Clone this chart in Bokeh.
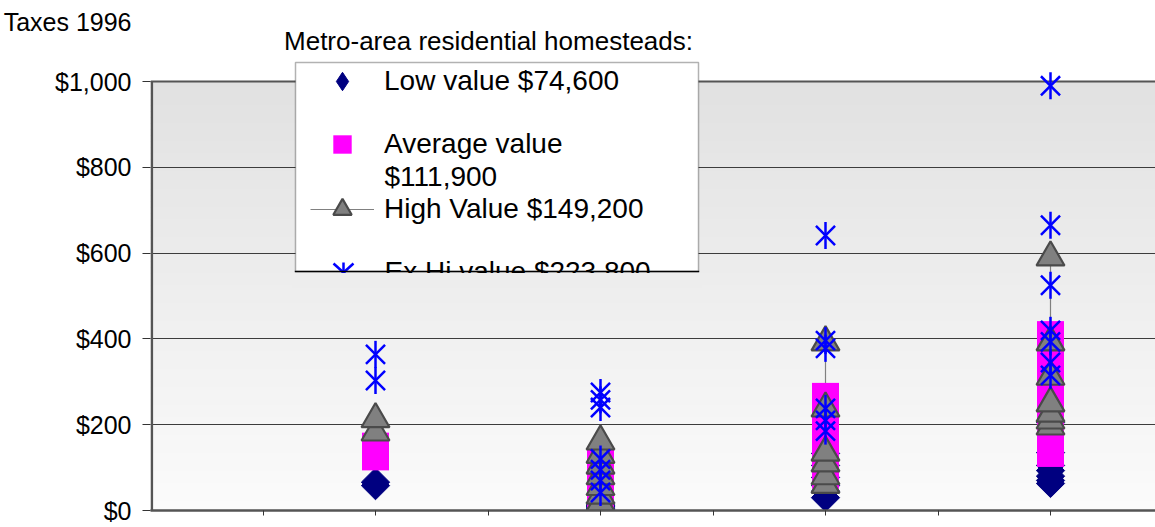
import math
from bokeh.plotting import figure
from bokeh.models import (Range1d, FixedTicker, NumeralTickFormatter, Legend, LegendItem,
                          BoxAnnotation, PolyAnnotation, Label, Span)
from bokeh.embed import file_html
from bokeh.resources import INLINE

# ---------------- data ----------------
groups = [1, 2, 3, 4]
low_values = [
    [58, 66],
    [3, 5, 8, 10, 12, 15, 18],
    [30, 45, 58, 77, 105, 133],
    [63, 70, 80, 93, 105, 135, 205],
]
avg_values = [
    [125, 150],
    [30, 40, 55, 70, 85, 100, 118],
    [82, 100, 130, 170, 215, 266],
    [133, 165, 205, 255, 300, 345, 410],
]
high_values = [
    [182, 213],
    [18, 35, 55, 80, 105, 130, 161],
    [60, 80, 110, 135, 238, 392],
    [196, 210, 226, 250, 312, 392, 590],
]
exhi_values = [
    [303, 364],
    [42, 70, 95, 120, 240, 258, 275],
    [185, 210, 238, 378, 396, 641],
    [315, 345, 393, 420, 525, 665, 990],
]
low_label = "Low value $74,600"
avg_label_1 = "Average value"
avg_label_2 = "$111,900"
high_label = "High Value $149,200"
exhi_label = "Ex Hi value $223,800"
y_ticks = [0, 200, 400, 600, 800, 1000]
x_ticks = [0.5, 1, 1.5, 2, 2.5, 3, 3.5, 4]
title_left = "Taxes 1996"
title_main = "Metro-area residential homesteads:"

# ---------------- layout helpers (pixel positions of the page) ----------------
FONT = "Liberation Sans"
W, H = 1155, 527
FRAME_L, FRAME_B = 150, 17
FRAME_W, FRAME_H = W - FRAME_L, H - FRAME_B
PX_PER_X = 225.0            # pixels per group step
PX_PER_Y = 429 / 1000.0     # pixels per dollar
Y_TOP = FRAME_H / PX_PER_Y  # frame reaches the top of the page
NAN = float("nan")


def dx(page_x):
    return (page_x - FRAME_L) / PX_PER_X


def dy(page_y):
    return (FRAME_H - page_y) / PX_PER_Y


def flat(vals):
    xs, ys = [], []
    for g, vs in zip(groups, vals):
        for v in vs:
            xs.append(g)
            ys.append(v)
    return xs, ys


def flat_line(vals):
    xs, ys = [], []
    for g, vs in zip(groups, vals):
        for v in sorted(vs, reverse=True):
            xs.append(g)
            ys.append(v)
        xs.append(NAN)
        ys.append(NAN)
    return xs, ys


p = figure(width=W, height=H,
           x_range=Range1d(0, FRAME_W / PX_PER_X), y_range=Range1d(0, Y_TOP),
           output_backend="svg", toolbar_location=None,
           min_border_left=FRAME_L, min_border_top=0,
           min_border_right=0, min_border_bottom=FRAME_B)
p.border_fill_color = "white"
p.background_fill_color = "white"
p.outline_line_color = None


def band_color(py):
    t = min(max((py - 81) / 429.0, 0), 1)
    v = int(round(225 + (251 - 225) * t))
    return "#%02x%02x%02x" % (v, v, v)


def add_bands(y0, y1, left=None, right=None, level="image", step=6, bottom_edge=False):
    py = y0
    while py < y1 - 0.01:
        py2 = min(py + step, y1)
        top = dy(py - 0.4) if py > y0 else dy(py)
        bottom = dy(py2 + 0.4)
        if bottom_edge and py2 >= y1:
            bottom = None
        p.add_layout(BoxAnnotation(top=top, bottom=bottom, left=left, right=right,
                                   fill_color=band_color((py + py2) / 2), fill_alpha=1,
                                   line_color=None, level=level))
        py = py2


# gradient plot background ($0 .. $1,000)
add_bands(81, 510, bottom_edge=True)

# y axis: labels on major ticks, tick marks as minor ticks
taxes_tick = 1138
p.yaxis.ticker = FixedTicker(ticks=y_ticks + [taxes_tick], minor_ticks=y_ticks)
p.yaxis.formatter = NumeralTickFormatter(format="$0,0")
p.yaxis.major_label_overrides = {taxes_tick: title_left}
p.yaxis.major_label_text_font = FONT
p.yaxis.major_label_text_font_size = "25px"
p.yaxis.major_label_text_color = "black"
p.yaxis.major_label_standoff = 11
p.yaxis.major_tick_out = 0
p.yaxis.major_tick_in = 0
p.yaxis.major_tick_line_color = None
p.yaxis.minor_tick_out = 8
p.yaxis.minor_tick_in = 0
p.yaxis.minor_tick_line_color = "#333333"
p.yaxis.minor_tick_line_width = 1
p.yaxis.axis_line_color = None
# visible left axis line only from $0 to $1,000
p.add_layout(BoxAnnotation(left=0, right=dx(152.6), bottom=0, top=1000,
                           fill_color="#555555", fill_alpha=1, line_color=None,
                           level="underlay"))

# x axis: tick marks only (minor ticks, no labels)
p.xaxis.ticker = FixedTicker(ticks=[], minor_ticks=x_ticks)
p.xaxis.minor_tick_out = 5
p.xaxis.minor_tick_in = 0
p.xaxis.minor_tick_line_color = "#333333"
p.xaxis.minor_tick_line_width = 1
p.xaxis.major_tick_out = 0
p.xaxis.axis_line_color = "#555555"
p.xaxis.axis_line_width = 2.5

p.xgrid.visible = False
p.ygrid.ticker = FixedTicker(ticks=y_ticks[1:])
p.ygrid.grid_line_color = "#3c3c3c"
p.ygrid.grid_line_width = 1
p.add_layout(Span(location=1000, dimension="width", line_color="#555555", line_width=2,
                  level="underlay"))

# ---------------- series ----------------
hx, hy = flat_line(high_values)
r_hline = p.line(hx, hy, line_color="#808080", line_width=1.2)

lx, ly = flat(low_values)
r_low = p.scatter(lx, ly, marker="square", size=20, angle=math.pi / 4,
                  fill_color="#000080", line_color="#000080", line_width=1)
ax_, ay_ = flat(avg_values)
r_avg = p.scatter(ax_, ay_, marker="square", size=27,
                  fill_color="#FF00FF", line_color=None)
tx, ty = flat(high_values)
r_high = p.scatter(tx, ty, marker="triangle", size=28,
                   fill_color="#808080", line_color="#4a4a4a", line_width=2.2)
ex, ey = flat(exhi_values)
r_ex1 = p.scatter(ex, ey, marker="x", size=27, line_color="#0000FF", line_width=2.5)
r_ex2 = p.scatter(ex, ey, marker="dash", size=27, angle=math.pi / 2,
                  line_color="#0000FF", line_width=2.5)

# legend-only glyph renderer (a single undrawn point)
r_low_leg = p.scatter(x=[NAN], y=[NAN], marker="diamond", fill_color="#000080",
                      line_color="#000080", line_width=1)

# ---------------- legend ----------------
# white legend box (cut off at its lower edge in the original)
p.add_layout(BoxAnnotation(left=dx(295), right=dx(698), top=dy(62), bottom=dy(271),
                           fill_color="white", fill_alpha=1, line_color="black",
                           line_width=1.5, level="guide"))

ITEM_H = 46
LEG_X = 310 - FRAME_L


def add_entry(label, renderers, center_y):
    leg = Legend(items=[LegendItem(label=label, renderers=renderers)],
                 location=(LEG_X, FRAME_H - center_y - ITEM_H / 2))
    leg.label_text_font = FONT
    leg.label_text_font_size = "28px"
    leg.label_text_color = "black"
    leg.glyph_width = 64
    leg.glyph_height = ITEM_H
    leg.label_height = ITEM_H
    leg.label_standoff = 10
    leg.padding = 0
    leg.spacing = 0
    leg.margin = 0
    leg.border_line_color = None
    leg.background_fill_alpha = 0
    p.add_layout(leg)


add_entry(low_label, [r_low_leg], 81)
add_entry(avg_label_1, [r_avg], 144)
add_entry(high_label, [r_hline, r_high], 209)
p.add_layout(Label(x=dx(384), y=dy(176), text=avg_label_2, text_font=FONT,
                   text_font_size="28px", text_baseline="middle", text_align="left",
                   text_color="black"))

# fourth entry, cut by the lower edge of the legend box
EX_CX, EX_CY, EX_R = 343, 272, 10
for (x0, y0, x1, y1) in [(0, -1, 0, 1), (-1, -0.9, 1, 0.9), (1, -0.9, -1, 0.9)]:
    p.add_layout(PolyAnnotation(
        xs=[dx(EX_CX + x0 * EX_R), dx(EX_CX + x1 * EX_R)],
        ys=[dy(EX_CY + y0 * EX_R), dy(EX_CY + y1 * EX_R)],
        line_color="#0000FF", line_alpha=1, line_width=2.5, fill_alpha=0,
        level="annotation"))
p.add_layout(Label(x=dx(384), y=dy(271), text=exhi_label, text_font=FONT,
                   text_font_size="28px", text_baseline="middle", text_align="left",
                   text_color="black", level="annotation"))

# hide what lies below the legend box edge (drawn after the fourth entry)
add_bands(272.4, 300, left=dx(291), right=dx(702), level="annotation", step=5)
p.add_layout(BoxAnnotation(top=dy(270.3), bottom=dy(271.8), left=dx(294.3), right=dx(698.7),
                           fill_color="black", fill_alpha=1, line_color=None,
                           level="annotation"))

# title
p.add_layout(Label(x=dx(488), y=dy(40), text=title_main, text_font=FONT,
                   text_font_size="26px", text_baseline="middle", text_align="center",
                   text_color="black"))

open("out.html", "w").write(file_html(p, INLINE))
